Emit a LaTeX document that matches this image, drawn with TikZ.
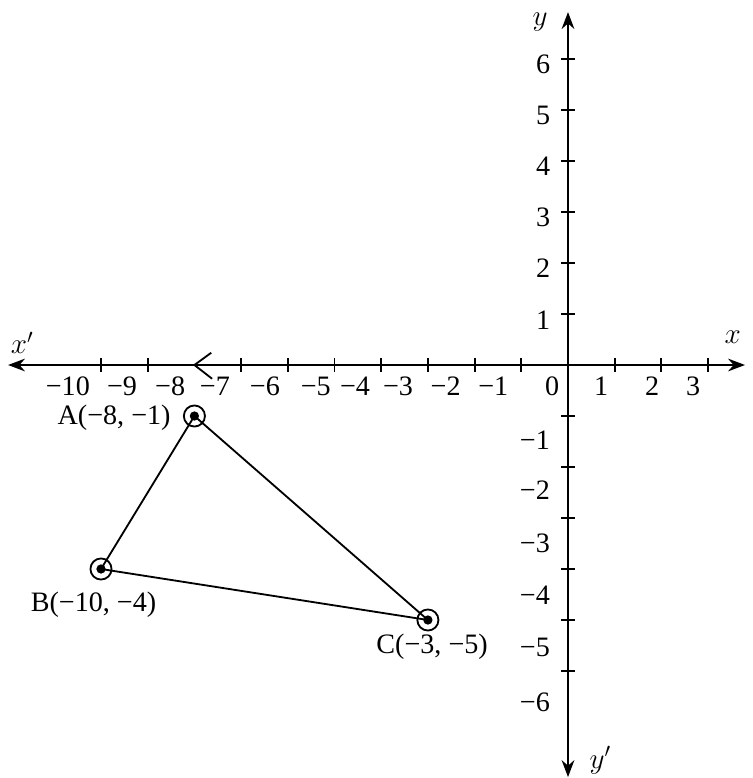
\documentclass[tikz,border=0pt]{standalone}
\usepackage{fontspec}
\setmainfont{Liberation Serif}
\usetikzlibrary{arrows.meta}
\tikzset{
  lbl/.style={font=\fontsize{20}{22}\selectfont, inner sep=1pt},
  axlbl/.style={font=\fontsize{20}{22}\selectfont, inner sep=1pt},
  axisline/.style={line width=1.6pt, {Stealth[length=12pt,width=9pt]}-{Stealth[length=12pt,width=9pt]}},
  ptring/.style={line width=1.3pt},
}
\begin{document}
\begin{tikzpicture}[x=1.1675cm, y=1.275cm, line width=1.3pt]
  \useasboundingbox (-12.163,-8.098) rectangle (3.94,7.157);
  \coordinate (xl) at (-11.99,0);
  \coordinate (xr) at (3.79,0);
  \coordinate (yb) at (0,-8.08);
  \coordinate (yt) at (0,6.92);
  \draw[axisline] (xl) -- (xr);
  \draw[axisline] (yb) -- (yt);
  \foreach \i in {-10,-9,-7,-6,-5,-4,-3,-2,-1,1,2,3}
    \draw (\i,-0.13) -- (\i,0.13);
  \foreach \j in {-6,...,-1,1,2,...,6}
    \draw (-0.15,\j) -- (0.15,\j);
  \draw (-7.64,0.24) -- (-8,0) -- (-7.62,-0.27);
  \foreach \x/\t in {-10.71/−10,-9.55/−9,-8.52/−8,-7.56/−7,-6.49/−6,-5.40/−5,-4.56/−4,-3.64/−3,-2.62/−2,-1.60/−1,-0.34/0,0.71/1,1.80/2,2.68/3}
    \node[lbl] at (\x,-0.42) {\t};
  \foreach \y/\t in {5.9/6,4.9/5,3.9/4,2.9/3,1.9/2,0.88/1}
    \node[lbl, anchor=east] at (-0.33,\y) {\t};
  \foreach \y/\t in {-1.47/−1,-2.45/−2,-3.49/−3,-4.51/−4,-5.53/−5,-6.61/−6}
    \node[lbl, anchor=east] at (-0.34,\y) {\t};
  \node[axlbl] (xlab) at (-11.69,0.43) {$x'$};
  \node[axlbl] (xrlab) at (3.53,0.55) {$x$};
  \node[axlbl] (ytlab) at (-0.6,6.72) {$y$};
  \node[axlbl] (yblab) at (0.69,-7.75) {$y'$};
  \coordinate (A) at (-8,-1);
  \coordinate (B) at (-10,-4);
  \coordinate (C) at (-3,-5);
  \draw (A) -- (B) -- (C) -- cycle;
  \foreach \p in {A,B,C} {
    \fill (\p) circle (3.3pt);
    \draw[ptring] (\p) circle (7.5pt);
  }
  \node[lbl] (Alab) at (-9.72,-1.04) {A(−8, −1)};
  \node[lbl] (Blab) at (-10.16,-4.71) {B(−10, −4)};
  \node[lbl] (Clab) at (-2.91,-5.53) {C(−3, −5)};
\end{tikzpicture}
\end{document}
